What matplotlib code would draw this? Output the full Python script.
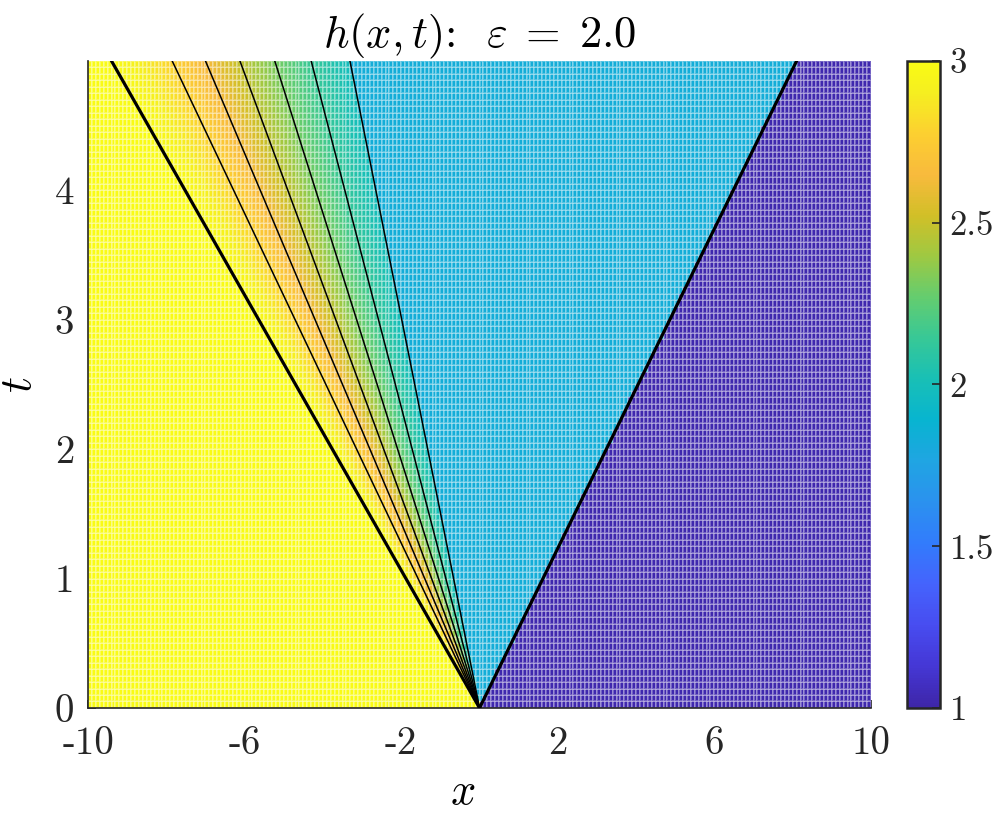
import numpy as np
import matplotlib
matplotlib.use("Agg")
import matplotlib.pyplot as plt
from matplotlib.colors import LinearSegmentedColormap

plt.rcParams["font.family"] = "cmr10"
plt.rcParams["mathtext.fontset"] = "cm"
plt.rcParams["axes.formatter.use_mathtext"] = True

# ── values ────────────────────────────────────────────────────────────────────
x_lim = (-10.0, 10.0)
t_lim = (0.0, 5.0)
h_left = 3.0          # undisturbed state left of the fan
h_mid = 1.83          # plateau between fan and shock
h_right = 1.02        # state right of the shock
s_shock = 1.62        # shock speed x/t
fan_s = [-1.88, -1.57, -1.40, -1.224, -1.046, -0.86, -0.662]   # fan head .. tail (x/t)
fan_h = [3.0, 2.78, 2.64, 2.48, 2.31, 2.14, 1.98]               # h along those rays
x_ticks = [-10, -6, -2, 2, 6, 10]
t_ticks = [0, 1, 2, 3, 4]
cb_ticks = [1, 1.5, 2, 2.5, 3]

# MATLAB parula, every 4th row of parula(64)
parula_rows = [
    (0.2422, 0.1504, 0.6603), (0.2706, 0.2147, 0.8364), (0.2813, 0.3006, 0.9414),
    (0.2699, 0.3892, 0.9906), (0.1963, 0.4847, 0.9892), (0.1687, 0.5703, 0.9359),
    (0.1248, 0.6459, 0.8883), (0.0297, 0.7082, 0.8163), (0.0964, 0.7500, 0.7120),
    (0.2161, 0.7843, 0.5923), (0.3909, 0.8029, 0.4354), (0.6174, 0.7876, 0.2612),
    (0.8203, 0.7498, 0.1535), (0.9728, 0.7298, 0.2394), (0.9892, 0.8136, 0.1885),
    (0.9628, 0.9373, 0.1265), (0.9769, 0.9839, 0.0805),
]
parula_pos = [0, 4, 8, 12, 16, 20, 24, 28, 32, 36, 40, 44, 48, 52, 56, 60, 63]
parula = LinearSegmentedColormap.from_list(
    "parula", [(p / 63, c) for p, c in zip(parula_pos, parula_rows)])

# ── field on a grid, built from the states above ──────────────────────────────
x_edges = np.linspace(*x_lim, 201)
t_edges = np.linspace(*t_lim, 101)
xc = 0.5 * (x_edges[:-1] + x_edges[1:])
tc = 0.5 * (t_edges[:-1] + t_edges[1:])
X, T = np.meshgrid(xc, tc)
S = X / T
H = np.where(S < fan_s[0], h_left,
     np.where(S < fan_s[-1], np.interp(S, fan_s, fan_h),
      np.where(S < s_shock, h_mid, h_right)))

# ── plot ──────────────────────────────────────────────────────────────────────
fig = plt.figure(figsize=(9.96, 8.13), dpi=100)
ax = fig.add_axes([0.0884, 0.1292, 0.7861, 0.7958])
cax = fig.add_axes([0.9106, 0.1292, 0.0331, 0.7958])

mesh = ax.pcolormesh(x_edges, t_edges, H, cmap=parula, vmin=1, vmax=3,
                     edgecolors=(1, 1, 1, 0.28), linewidth=0.3)

t_top = t_lim[1]
for s in [fan_s[0], s_shock]:
    ax.plot([0, s * t_top], [0, t_top], color="k", lw=2.3, zorder=4)
for s in fan_s[1:]:
    ax.plot([0, s * t_top], [0, t_top], color="k", lw=1.1, zorder=4)

ax.set_xlim(*x_lim)
ax.set_ylim(*t_lim)
ax.set_axisbelow(True)
ax.set_xticks(x_ticks)
ax.set_xticklabels([str(v) for v in x_ticks])
ax.set_yticks(t_ticks)
ax.set_yticklabels([str(v) for v in t_ticks])
ax.tick_params(direction="in", length=6, width=1.2, labelsize=28,
               colors="#262626")
ax.tick_params(axis="x", pad=13)
ax.tick_params(axis="y", pad=10)
for side in ["top", "right"]:
    ax.spines[side].set_visible(False)
for side in ["left", "bottom"]:
    ax.spines[side].set_linewidth(1.2)
    ax.spines[side].set_color("#262626")

ax.set_title(r"$h(x,t)$:  $\varepsilon\;=\;2.0$", fontsize=32, pad=10)
ax.set_xlabel(r"$x$", fontsize=32)
ax.set_ylabel(r"$t$", fontsize=32)
ax.xaxis.set_label_coords(0.478, -0.10)
ax.yaxis.set_label_coords(-0.062, 0.5)

cb = fig.colorbar(mesh, cax=cax)
cb.set_ticks(cb_ticks)
cb.set_ticklabels(["1", "1.5", "2", "2.5", "3"])
cb.outline.set_linewidth(1.8)
cb.outline.set_edgecolor("#262626")
cax.tick_params(direction="in", length=6, width=1.2, labelsize=25,
                colors="#262626", pad=7)

fig.savefig("out.png", dpi=100)
